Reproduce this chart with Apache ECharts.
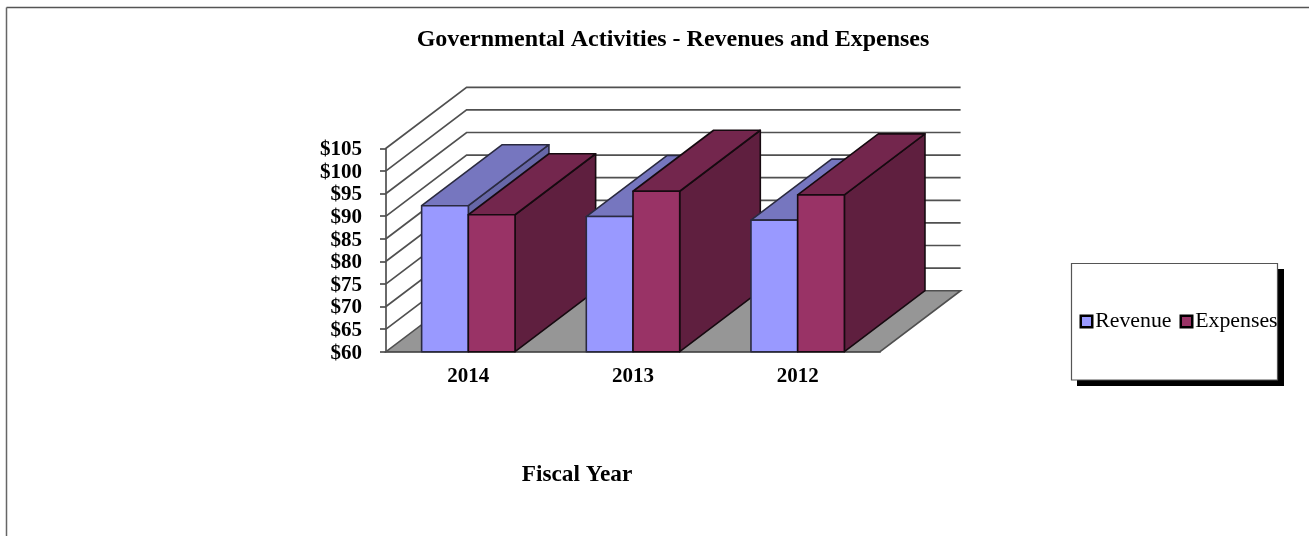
<!DOCTYPE html>
<html>
<head>
<meta charset="utf-8">
<style>html,body{margin:0;padding:0;background:#fff}#chart{width:1309px;height:536px}</style>
<script src="https://cdn.jsdelivr.net/npm/echarts@6/dist/echarts.min.js"></script>
</head>
<body>
<div id="chart"></div>
<script>
// Fiscal years, in the order they appear along the axis
const categories = ['2014', '2013', '2012'];
// Amounts in millions of dollars
const revenue = [92.3, 89.9, 89.1];
const expenses = [90.3, 95.5, 94.7];
const yTicks = [60, 65, 70, 75, 80, 85, 90, 95, 100, 105];

const serif = '"Liberation Serif", "Times New Roman", serif';
const DEPTH_X = 80.6;
const DEPTH_Y = -61;
const BAR_RATIO = 0.2836;
const GRID_COLOR = '#505050';
const GRID_WIDTH = 1.7;

const shades = {
  revenue: { front: '#9999ff', top: '#7676bf', side: '#6767a8', edge: '#2a2a40' },
  expenses: { front: '#993366', top: '#73264d', side: '#5f1f3f', edge: '#160a10' }
};

// Back wall, side wall and floor of the 3D box
function renderWall(params, api) {
  const cs = params.coordSys;
  const p = api.coord([0, api.value(0)]);
  const y = p[1];
  const x0 = cs.x, x1 = cs.x + cs.width;
  const children = [];
  if (params.dataIndex === 0) {
    children.push({
      type: 'polygon',
      z2: 0,
      shape: { points: [[x0, y], [x1, y], [x1 + DEPTH_X, y + DEPTH_Y], [x0 + DEPTH_X, y + DEPTH_Y]] },
      style: { fill: '#969696', stroke: GRID_COLOR, lineWidth: 1.6 }
    });
  } else {
    children.push({
      type: 'polyline',
      z2: 0,
      shape: { points: [[x0, y], [x0 + DEPTH_X, y + DEPTH_Y], [x1 + DEPTH_X, y + DEPTH_Y]] },
      style: { stroke: GRID_COLOR, lineWidth: GRID_WIDTH, fill: null }
    });
  }
  return { type: 'group', children };
}

// One extruded bar: front, top and side faces
function barRenderer(colors, side) {
  return function (params, api) {
    const idx = api.value(0);
    const band = api.size([1, 0])[0];
    const w = band * BAR_RATIO;
    const top = api.coord([idx, api.value(1)]);
    const base = api.coord([idx, yTicks[0]]);
    const xl = top[0] + (side < 0 ? -w : 0);
    const xr = xl + w;
    const yt = top[1], yb = base[1];
    const z2 = 10 + idx * 10 + (side < 0 ? 0 : 5);
    const style = (fill) => ({ fill, stroke: colors.edge, lineWidth: 1.6, lineJoin: 'round' });
    return {
      type: 'group',
      children: [
        { type: 'polygon', z2, shape: { points: [[xr, yb], [xr + DEPTH_X, yb + DEPTH_Y], [xr + DEPTH_X, yt + DEPTH_Y], [xr, yt]] }, style: style(colors.side) },
        { type: 'polygon', z2, shape: { points: [[xl, yt], [xr, yt], [xr + DEPTH_X, yt + DEPTH_Y], [xl + DEPTH_X, yt + DEPTH_Y]] }, style: style(colors.top) },
        { type: 'rect', z2: z2 + 1, shape: { x: xl, y: yt, width: w, height: yb - yt }, style: style(colors.front) }
      ]
    };
  };
}

const chart = echarts.init(document.getElementById('chart'), null, { renderer: 'canvas' });
chart.setOption({
  animation: false,
  backgroundColor: '#fff',
  textStyle: { fontFamily: serif },
  title: [
    {
      text: 'Governmental Activities - Revenues and Expenses',
      left: 668, top: 23, textAlign: 'center',
      textStyle: { fontFamily: serif, fontWeight: 'bold', fontSize: 24, color: '#000' }
    },
    {
      text: 'Fiscal Year',
      left: 572, top: 458, textAlign: 'center',
      textStyle: { fontFamily: serif, fontWeight: 'bold', fontSize: 23.3, color: '#000' }
    }
  ],
  legend: {
    left: 1071.5, top: 263.5,
    padding: [47, 0, 47, 8],
    orient: 'horizontal',
    itemGap: 8,
    itemWidth: 11.5,
    itemHeight: 11.5,
    icon: 'rect',
    data: ['Revenue', 'Expenses'],
    itemStyle: { borderColor: '#000', borderWidth: 2.5 },
    textStyle: { fontFamily: serif, fontSize: 21.8, color: '#000', padding: [0, 0, 0, -2] }
  },
  grid: { left: 386, right: 429, top: 148.3, height: 203.4 },
  xAxis: {
    type: 'category',
    data: categories,
    axisLine: { show: true, lineStyle: { color: GRID_COLOR, width: GRID_WIDTH } },
    axisTick: { show: false },
    axisLabel: { margin: 14, fontFamily: serif, fontWeight: 'bold', fontSize: 21, color: '#000' }
  },
  yAxis: {
    type: 'value',
    min: 60, max: 105, interval: 5,
    splitLine: { show: false },
    axisLine: { show: true, lineStyle: { color: GRID_COLOR, width: GRID_WIDTH } },
    axisTick: { show: true, length: 6, lineStyle: { color: GRID_COLOR, width: GRID_WIDTH } },
    axisLabel: { margin: 24, verticalAlign: 'top', lineHeight: 3, fontFamily: serif, fontWeight: 'bold', fontSize: 21, color: '#000', formatter: '${value}' }
  },
  series: [
    {
      name: 'Walls', type: 'custom', silent: true, z: 1,
      coordinateSystem: 'cartesian2d',
      data: yTicks.map((v) => [v]),
      encode: { y: 0 },
      clip: false,
      renderItem: renderWall
    },
    {
      name: 'Revenue', type: 'custom', z: 2,
      coordinateSystem: 'cartesian2d',
      itemStyle: { color: shades.revenue.front },
      data: revenue.map((v, i) => [i, v]),
      encode: { x: 0, y: 1 },
      clip: false,
      renderItem: barRenderer(shades.revenue, -1)
    },
    {
      name: 'Expenses', type: 'custom', z: 2,
      coordinateSystem: 'cartesian2d',
      itemStyle: { color: shades.expenses.front },
      data: expenses.map((v, i) => [i, v]),
      encode: { x: 0, y: 1 },
      clip: false,
      renderItem: barRenderer(shades.expenses, 1)
    }
  ],
  graphic: [
    // Page frame along the top and left edges
    { type: 'line', silent: true, shape: { x1: 6.5, y1: 7.5, x2: 1309, y2: 7.5 }, style: { stroke: '#555', lineWidth: 1.5 } },
    { type: 'line', silent: true, shape: { x1: 6.5, y1: 7.5, x2: 6.5, y2: 536 }, style: { stroke: '#666', lineWidth: 1.5 } },
    // Legend box with its hard drop shadow
    { type: 'rect', silent: true, z: 1, shape: { x: 1077, y: 269, width: 207, height: 117 }, style: { fill: '#000' } },
    { type: 'rect', silent: true, z: 2, shape: { x: 1071.5, y: 263.5, width: 206, height: 116.5 }, style: { fill: '#fff', stroke: '#555', lineWidth: 1.2 } }
  ]
});
</script>
</body>
</html>
